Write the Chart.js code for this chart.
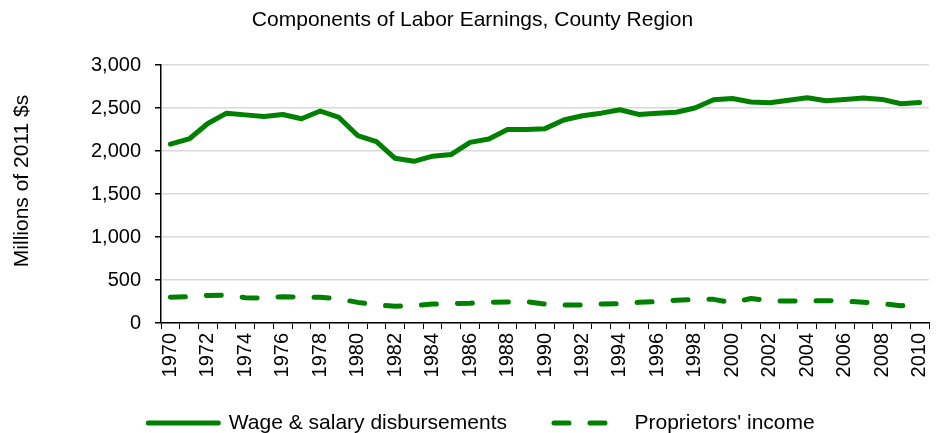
<!DOCTYPE html>
<html>
<head>
<meta charset="utf-8">
<script src="https://cdn.jsdelivr.net/npm/chart.js@4/dist/chart.umd.min.js"></script>
<style>
  html, body { margin: 0; padding: 0; background: #fff; }
  #wrap { width: 936px; height: 433px; }
</style>
</head>
<body>
<div id="wrap"><canvas id="laborChart"></canvas></div>
<script>
// Data
const years = [];
for (let y = 1970; y <= 2010; y++) years.push(String(y));

const wageSalary = [
  2080, 2140, 2320, 2440, 2420, 2400, 2425, 2375, 2465, 2390,
  2180, 2110, 1915, 1880, 1940, 1960, 2100, 2140, 2250, 2250,
  2260, 2360, 2410, 2440, 2480, 2425, 2440, 2450, 2500, 2595,
  2610, 2570, 2560, 2590, 2620, 2585, 2600, 2615, 2600, 2550,
  2565
];

const proprietors = [
  300, 305, 320, 325, 295, 290, 305, 300, 300, 280,
  240, 210, 195, 200, 220, 225, 230, 240, 245, 250,
  220, 210, 210, 220, 225, 240, 250, 265, 275, 275,
  235, 285, 260, 255, 260, 260, 255, 240, 225, 200,
  230
];

const yTicks = [0, 500, 1000, 1500, 2000, 2500, 3000];

const green = '#008000';
const fontFamily = '"Liberation Sans", Arial, sans-serif';

// title and legend sit a bit right of centre in the original,
// the legend is pulled up so the rotated year labels keep their room,
// and the y title sits a little above the middle of the axis
const boxNudge = {
  id: 'boxNudge',
  afterLayout(chart) {
    const lg = chart.legend;
    if (lg) {
      lg.left += 17;
      lg.right += 17;
      lg.top -= 17.5;
      lg.bottom -= 17.5;
    }
    const tb = chart.titleBlock;
    if (tb) {
      tb.left += 8;
      tb.right += 8;
    }
    const ys = chart.scales.y;
    if (ys && !ys._titleNudged) {
      const orig = ys.drawTitle.bind(ys);
      ys.drawTitle = function () {
        const ctx = this.ctx;
        ctx.save();
        ctx.translate(0, -13);
        orig();
        ctx.restore();
      };
      ys._titleNudged = true;
    }
  }
};

new Chart(document.getElementById('laborChart'), {
  type: 'line',
  data: {
    labels: years,
    datasets: [{
      label: 'Wage & salary disbursements',
      data: wageSalary,
      borderColor: green,
      backgroundColor: green,
      borderWidth: 5,
      borderCapStyle: 'round',
      borderJoinStyle: 'round',
      pointRadius: 0,
      tension: 0
    }, {
      label: "Proprietors' income",
      data: proprietors,
      borderColor: green,
      backgroundColor: green,
      borderWidth: 5,
      borderDash: [15, 21],
      borderCapStyle: 'round',
      borderJoinStyle: 'round',
      pointRadius: 0,
      tension: 0
    }]
  },
  plugins: [boxNudge],
  options: {
    responsive: true,
    maintainAspectRatio: false,
    animation: false,
    layout: { padding: { left: 0, right: 7, top: 0, bottom: -28 } },
    plugins: {
      title: {
        display: true,
        text: 'Components of Labor Earnings, County Region',
        color: '#000',
        font: { family: fontFamily, size: 21, weight: 'normal' },
        padding: { top: 8, bottom: 31.8 }
      },
      legend: {
        position: 'bottom',
        labels: {
          color: '#000',
          font: { family: fontFamily, size: 21 },
          usePointStyle: true,
          pointStyle: 'line',
          pointStyleWidth: 70,
          boxWidth: 70,
          padding: 47,
          // point-style legend items don't pick up the dash, so copy it over
          generateLabels: chart => {
            const base = Chart.defaults.plugins.legend.labels.generateLabels(chart);
            return base.map((item, i) => {
              const ds = chart.data.datasets[i];
              return Object.assign(item, {
                pointStyle: 'line',
                lineDash: ds.borderDash || [],
                lineWidth: ds.borderWidth,
                lineCap: ds.borderCapStyle,
                strokeStyle: ds.borderColor
              });
            });
          }
        }
      },
      tooltip: { enabled: false }
    },
    scales: {
      x: {
        offset: true,
        grid: {
          offset: true,
          drawOnChartArea: false,
          drawTicks: true,
          tickLength: 6,
          color: '#000'
        },
        border: { color: '#000', width: 1.5 },
        ticks: {
          autoSkip: false,
          minRotation: 90,
          maxRotation: 90,
          padding: 4,
          color: '#000',
          font: { family: fontFamily, size: 20 },
          callback: function (val, i) {
            const lbl = this.getLabelForValue(val);
            return i % 2 === 0 ? lbl : '';
          }
        },
        afterFit: s => {
          s.height = 60;
          s.paddingLeft = 0;
          s.paddingRight = 0;
        }
      },
      y: {
        min: 0,
        max: 3000,
        afterBuildTicks: s => { s.ticks = yTicks.map(v => ({ value: v })); },
        grid: {
          color: '#d9d9d9',
          lineWidth: 1.5,
          tickLength: 6,
          tickColor: '#000'
        },
        border: { color: '#000', width: 1.5 },
        ticks: {
          color: '#000',
          padding: 14,
          font: { family: fontFamily, size: 20 },
          callback: v => v.toLocaleString('en-US')
        },
        title: {
          display: true,
          text: 'Millions of 2011 $s',
          color: '#000',
          font: { family: fontFamily, size: 21 },
          padding: { top: 10, bottom: 0 }
        },
        afterFit: s => { s.width = 161; }
      }
    }
  }
});
</script>
</body>
</html>
